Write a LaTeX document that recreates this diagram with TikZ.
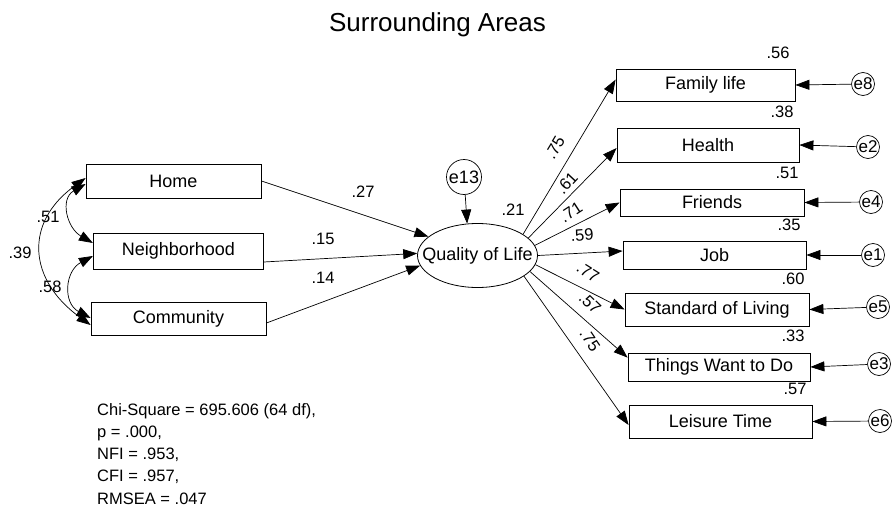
\documentclass[tikz,border=0pt]{standalone}
\usepackage{fontspec}
\setmainfont{Liberation Sans}
\usetikzlibrary{arrows.meta,shapes.geometric}
\begin{document}
\begin{tikzpicture}[x=1pt,y=-1pt,
  every node/.style={font=\fontsize{18}{20}\selectfont, inner sep=0pt},
  obs/.style={draw, rectangle, line width=0.8pt},
  lat/.style={draw, ellipse, line width=0.8pt, minimum width=120pt, minimum height=64pt},
  err/.style={draw, circle, line width=0.7pt, minimum size=23pt, font=\fontsize{17}{19}\selectfont},
  lbl/.style={font=\fontsize{16.5}{18}\selectfont},
  reg/.style={line width=0.7pt, -{Triangle[length=14pt,width=10pt]}},
  cov/.style={line width=0.7pt, {Triangle[length=14pt,width=10pt]}-{Triangle[length=14pt,width=10pt]}},
]
\useasboundingbox (0,0) rectangle (893,508);

% title
\node[font=\fontsize{26}{30}\selectfont, anchor=base] (title) at (437.5,31.7) {Surrounding Areas};

% exogenous observed variables
\node[obs, minimum width=175pt, minimum height=34pt] (home) at (173.5,181) {Home};
\node[obs, minimum width=170pt, minimum height=36pt] (nbh)  at (178.3,251) {Neighborhood};
\node[obs, minimum width=175pt, minimum height=33pt] (comm) at (178.5,319) {Community};

% latent variable and its disturbance
\node[lat] (qol) at (477.5,255.5) {};
\node (qoltext) at (qol.center) {Quality of Life};
\node[err, minimum size=35pt, font=\fontsize{18}{20}\selectfont] (e13) at (464,177) {e13};

% indicators
\node[obs, minimum width=179pt, minimum height=32pt] (fam)     at (705.5,85)    {Family life};
\node[obs, minimum width=182pt, minimum height=34pt] (health)  at (708,145)     {Health};
\node[obs, minimum width=184pt, minimum height=27pt] (friends) at (712,202.5)   {Friends};
\node[obs, minimum width=183pt, minimum height=28pt] (job)     at (714.5,255)   {Job};
\node[obs, minimum width=184pt, minimum height=33pt] (sol)     at (717,309.5)   {Standard of Living};
\node[obs, minimum width=182pt, minimum height=28pt] (things)  at (719,367)     {Things Want to Do};
\node[obs, minimum width=183pt, minimum height=33pt] (leisure) at (720.5,421.5) {Leisure Time};

% measurement errors
\node[err] (e8) at (863,84)  {e8};
\node[err] (e2) at (868,147) {e2};
\node[err] (e4) at (871,202) {e4};
\node[err] (e1) at (873,255) {e1};
\node[err] (e5) at (878,307) {e5};
\node[err] (e3) at (879,364) {e3};
\node[err] (e6) at (880,421) {e6};

% structural paths
\draw[reg] (home.east) -- (qol.159);
\draw[reg] ([yshift=-11pt]nbh.east) -- (qol.178);
\draw[reg] ([yshift=-4pt]comm.east) -- (qol.190);
\draw[reg] (e13) -- (qol.108);

% loadings
\draw[reg] (qol.25)  -- ([yshift=-11pt]fam.north west);
\draw[reg] (qol.19)  -- ([yshift=-3pt]health.west);
\draw[reg] (qol.10)  -- (friends.west);
\draw[reg] (qol.0)   -- ([yshift=4pt]job.west);
\draw[reg] (qol.-9)  -- (sol.west);
\draw[reg] (qol.-17) -- ([yshift=-5pt]things.north west);
\draw[reg] (qol.-24) -- ([yshift=-3.5pt]leisure.west);

% error terms
\draw[reg] (e8) -- (fam.east);
\draw[reg] (e2) -- (health.east);
\draw[reg] (e4) -- (friends.east);
\draw[reg] (e1) -- (job.east);
\draw[reg] (e5) -- (sol.east);
\draw[reg] (e3) -- (things.east);
\draw[reg] (e6) -- (leisure.east);

% covariances
\draw[cov] ([yshift=3pt]home.west) .. controls +(-62,45) and +(-62,-45) .. ([yshift=-6pt]comm.west);
\draw[cov] ([yshift=-3pt]home.west) .. controls +(-26,15) and +(-26,-15) .. ([yshift=8pt]nbh.west);
\draw[cov] ([yshift=-5pt]nbh.west) .. controls +(-28,15) and +(-28,-15) .. ([yshift=1pt]comm.west);

% coefficient labels
\node[lbl] (c51) at (48,217) {.51};
\node[lbl] (c39) at (20,253) {.39};
\node[lbl] (c58) at (50,287) {.58};
\node[lbl] (p27) at (363,192) {.27};
\node[lbl] (p15) at (323,239) {.15};
\node[lbl] (p14) at (323,278) {.14};
\node[lbl] (r21) at (513,210) {.21};

\node[lbl, rotate=59]  (lfam)   at (555,148) {.75};
\node[lbl, rotate=47]  (lhea)   at (567,183) {.61};
\node[lbl, rotate=33]  (lfri)   at (571,212) {.71};
\node[lbl, rotate=5]   (ljob)   at (582,235) {.59};
\node[lbl, rotate=-32] (lsol)   at (588,272) {.77};
\node[lbl, rotate=-44] (lthi)   at (590,303) {.57};
\node[lbl, rotate=-56] (llei)   at (590,340) {.75};

\node[lbl] (rfam) at (778,53)  {.56};
\node[lbl] (rhea) at (782,112) {.38};
\node[lbl] (rfri) at (787,173) {.51};
\node[lbl] (rjob) at (789,225) {.35};
\node[lbl] (rsol) at (793,279) {.60};
\node[lbl] (rthi) at (793,336) {.33};
\node[lbl] (rlei) at (795,389) {.57};

% fit statistics
\node[lbl, anchor=base west] (stat1) at (97,415)   {Chi-Square = 695.606 (64 df),};
\node[lbl, anchor=base west] (stat2) at (97,437.3) {p = .000,};
\node[lbl, anchor=base west] (stat3) at (97,459.5) {NFI = .953,};
\node[lbl, anchor=base west] (stat4) at (97,481.8) {CFI = .957,};
\node[lbl, anchor=base west] (stat5) at (97,504)   {RMSEA = .047};
\end{tikzpicture}
\end{document}
